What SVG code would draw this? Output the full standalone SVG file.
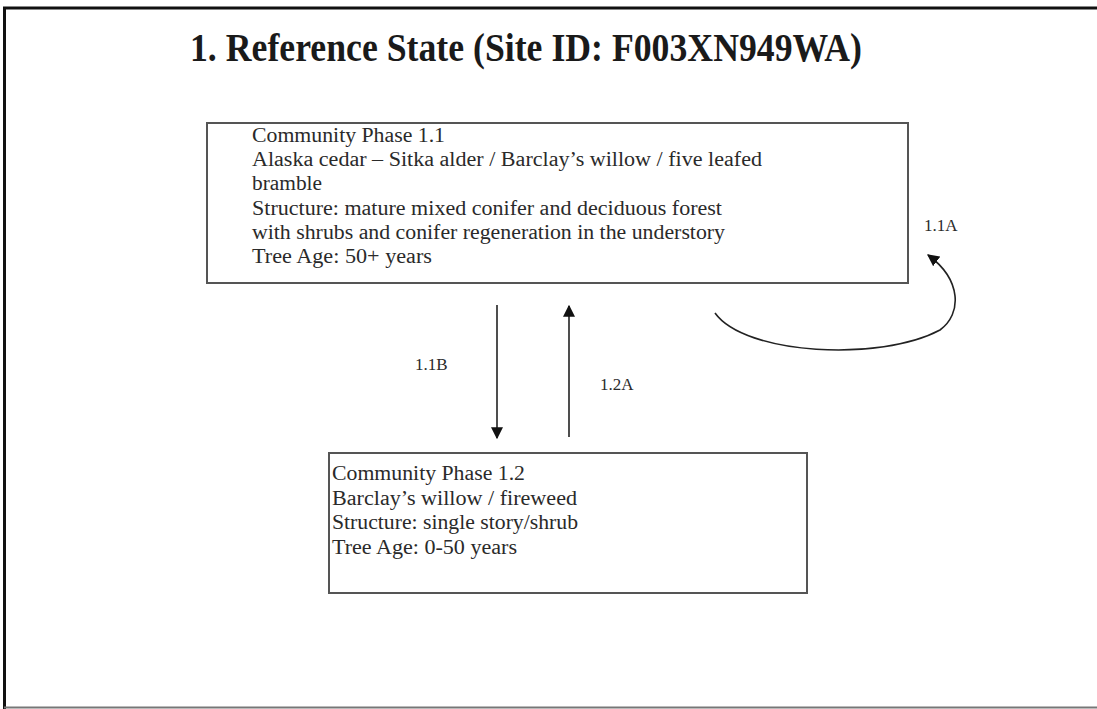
<svg xmlns="http://www.w3.org/2000/svg" width="1097" height="709" viewBox="0 0 1097 709">
<defs>
<style>
.t{font-family:"Liberation Serif","Times New Roman",serif;font-size:20px;fill:#2a2a2a}
.lbl{font-family:"Liberation Serif","Times New Roman",serif;font-size:17px;fill:#2a2a2a}
.box{fill:#fff;stroke:#555;stroke-width:2}
.conn{fill:none;stroke:#222;stroke-width:1.6}
</style>
<marker id="ah2" viewBox="0 0 10 10" refX="9" refY="5" markerWidth="12" markerHeight="12" markerUnits="userSpaceOnUse" orient="auto">
<path d="M0,0 L10,5 L0,10 z" fill="#111"/>
</marker>
</defs>
<rect x="0" y="0" width="1097" height="709" fill="#fff"/>
<path d="M4.5,709 V8 H1097" fill="none" stroke="#111" stroke-width="3"/>
<line x1="4" y1="707.5" x2="1097" y2="707.5" stroke="#777" stroke-width="2"/>
<text x="190" y="61" font-family="'Liberation Serif','Times New Roman',serif" font-weight="bold" font-size="41" fill="#1a1a1a" textLength="672" lengthAdjust="spacingAndGlyphs">1. Reference State (Site ID: F003XN949WA)</text>
<g id="node-1-1">
<rect class="box" x="207" y="123" width="701" height="160"/>
<text class="t" x="252" y="142" textLength="193" lengthAdjust="spacingAndGlyphs">Community  Phase 1.1</text>
<text class="t" x="252" y="166" textLength="510" lengthAdjust="spacingAndGlyphs">Alaska cedar – Sitka alder / Barclay’s willow  / five leafed</text>
<text class="t" x="252" y="190" textLength="70" lengthAdjust="spacingAndGlyphs">bramble</text>
<text class="t" x="252" y="215" textLength="470" lengthAdjust="spacingAndGlyphs">Structure: mature mixed  conifer and deciduous  forest</text>
<text class="t" x="252" y="239" textLength="473" lengthAdjust="spacingAndGlyphs">with shrubs and conifer regeneration in the understory</text>
<text class="t" x="252" y="263" textLength="180" lengthAdjust="spacingAndGlyphs">Tree Age: 50+ years</text>
</g>
<g id="node-1-2">
<rect class="box" x="329" y="453" width="478" height="140"/>
<text class="t" x="332" y="480" textLength="193" lengthAdjust="spacingAndGlyphs">Community  Phase 1.2</text>
<text class="t" x="332" y="505" textLength="245" lengthAdjust="spacingAndGlyphs">Barclay’s willow  / fireweed</text>
<text class="t" x="332" y="529" textLength="246" lengthAdjust="spacingAndGlyphs">Structure: single  story/shrub</text>
<text class="t" x="332" y="554" textLength="185" lengthAdjust="spacingAndGlyphs">Tree Age: 0-50 years</text>
</g>
<g id="connectors">
<line class="conn" x1="497" y1="305" x2="497" y2="438" marker-end="url(#ah2)"/>
<line class="conn" x1="569" y1="437" x2="569" y2="306" marker-end="url(#ah2)"/>
<path class="conn" d="M715,313 C745,355 880,362 940,330 C962,314 962,280 928,255" marker-end="url(#ah2)"/>
<text class="lbl" x="415" y="370">1.1B</text>
<text class="lbl" x="600" y="390">1.2A</text>
<text class="lbl" x="924" y="231">1.1A</text>
</g>
</svg>
